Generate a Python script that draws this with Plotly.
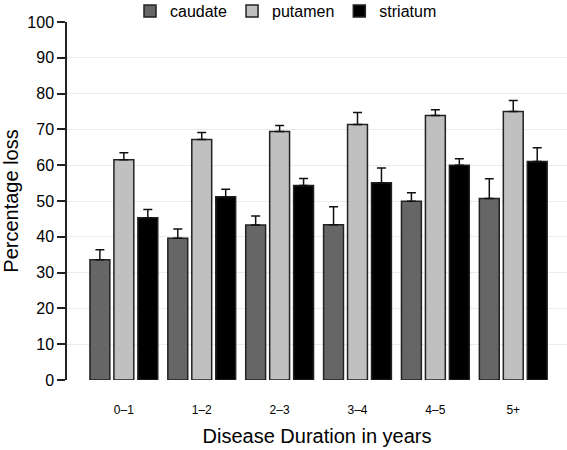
import plotly.graph_objects as go

categories = ["0–1", "1–2", "2–3", "3–4", "4–5", "5+"]
caudate = [33.6, 39.6, 43.3, 43.4, 49.9, 50.7]
caudate_err = [2.8, 2.6, 2.5, 5.0, 2.4, 5.5]
putamen = [61.5, 67.2, 69.4, 71.4, 73.9, 75.0]
putamen_err = [2.0, 1.9, 1.7, 3.3, 1.6, 3.1]
striatum = [45.3, 51.2, 54.3, 55.1, 60.0, 61.0]
striatum_err = [2.3, 2.1, 2.0, 4.1, 1.8, 3.9]

series = [
    ("caudate", caudate, caudate_err, "#666666"),
    ("putamen", putamen, putamen_err, "#c0c0c0"),
    ("striatum", striatum, striatum_err, "#000000"),
]

fig = go.Figure()
for name, vals, errs, col in series:
    fig.add_trace(go.Bar(
        name=name, x=categories, y=vals,
        marker=dict(color=col, line=dict(color="#222222", width=1.5)),
        error_y=dict(type="data", symmetric=False, array=errs,
                     arrayminus=[0] * len(errs), color="#111111",
                     thickness=1.5, width=4.5),
    ))

fig.update_layout(
    width=567, height=450,
    margin=dict(l=67, r=0, t=22, b=70, autoexpand=False),
    paper_bgcolor="white", plot_bgcolor="white",
    font=dict(family="Liberation Sans, Arial, sans-serif", color="#000000"),
    barmode="group", bargap=0.077, bargroupgap=0.17,
    showlegend=True,
    legend=dict(orientation="h", x=0.438, xanchor="center", y=1.078, yanchor="top",
                font=dict(size=16, color="#000000"), bgcolor="rgba(0,0,0,0)",
                traceorder="normal"),
    xaxis=dict(
        type="category", range=[-0.73, 5.69], automargin=False,
        showline=False, showgrid=False, zeroline=False,
        ticks="outside", ticklen=19, tickcolor="rgba(0,0,0,0)",
        tickfont=dict(size=12, color="#000000"),
        title=dict(text="Disease Duration in years", font=dict(size=20, color="#000000"), standoff=12),
    ),
    yaxis=dict(
        range=[0, 100], tickvals=list(range(0, 101, 10)), automargin=False,
        showline=True, linecolor="#222222", linewidth=1.5,
        ticks="outside", ticklen=8, tickwidth=1.5, tickcolor="#222222",
        showgrid=True, gridcolor="#ebebeb", gridwidth=1, zeroline=False,
        tickfont=dict(size=16, color="#000000"),
        title=dict(text="Percentage loss", font=dict(size=20, color="#000000"), standoff=6),
    ),
)

fig.write_html("out.html", config={"displayModeBar": False},
               post_script="document.body.style.margin='0';")
